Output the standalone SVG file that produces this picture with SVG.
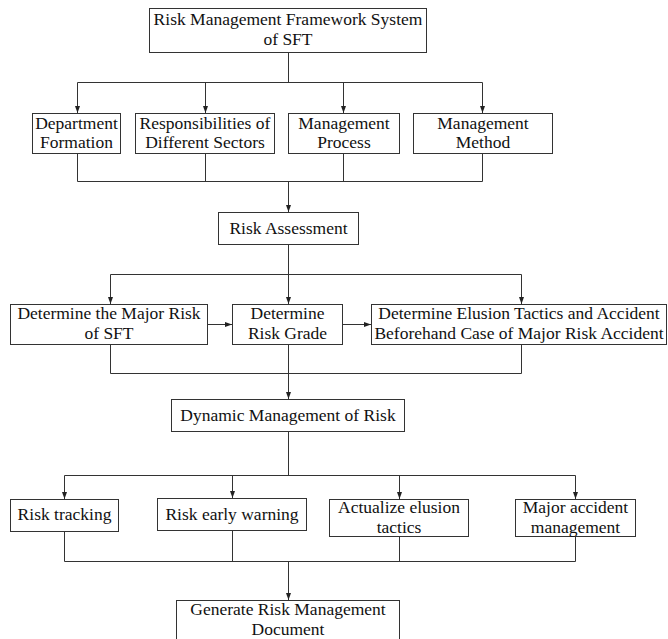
<svg xmlns="http://www.w3.org/2000/svg" width="668" height="639" viewBox="0 0 668 639">
<style>
.box{fill:#fff;stroke:#333;stroke-width:1}
.t{font-family:"Liberation Serif","Times New Roman",serif;font-size:17.5px;fill:#111;text-anchor:middle}
.c{fill:none;stroke:#333;stroke-width:1}
</style>
<defs>
<marker id="ah" markerUnits="userSpaceOnUse" markerWidth="7" markerHeight="5" refX="7" refY="2.5" orient="auto">
<path d="M0,0 L7,2.5 L0,5 z" fill="#222"/>
</marker>
</defs>
<rect width="668" height="639" fill="#fff"/>
<g id="connectors">
<path class="c" d="M288.5,53 V82.5 M77.5,82.5 H482.5"/>
<path class="c" marker-end="url(#ah)" d="M77.5,82.5 V113"/>
<path class="c" marker-end="url(#ah)" d="M205.5,82.5 V113"/>
<path class="c" marker-end="url(#ah)" d="M343.5,82.5 V113"/>
<path class="c" marker-end="url(#ah)" d="M482.5,82.5 V113"/>
<path class="c" d="M77.5,154 V181.5 H482.5 V154 M205.5,154 V181.5 M343.5,154 V181.5"/>
<path class="c" marker-end="url(#ah)" d="M288.5,181.5 V212"/>
<path class="c" marker-end="url(#ah)" d="M288.5,245 V304"/>
<path class="c" d="M110.5,274.5 H521.5"/>
<path class="c" marker-end="url(#ah)" d="M110.5,274.5 V304"/>
<path class="c" marker-end="url(#ah)" d="M521.5,274.5 V304"/>
<path class="c" marker-end="url(#ah)" d="M208,324.5 H232"/>
<path class="c" marker-end="url(#ah)" d="M343,324.5 H371"/>
<path class="c" d="M110.5,345 V373.5 H521.5 V345"/>
<path class="c" marker-end="url(#ah)" d="M288.5,345 V399"/>
<path class="c" d="M288.5,432 V475.5 M64.5,475.5 H575.5"/>
<path class="c" marker-end="url(#ah)" d="M64.5,475.5 V499"/>
<path class="c" marker-end="url(#ah)" d="M232.5,475.5 V498"/>
<path class="c" marker-end="url(#ah)" d="M399.5,475.5 V499"/>
<path class="c" marker-end="url(#ah)" d="M575.5,475.5 V499"/>
<path class="c" d="M64.5,531 V561.5 H575.5 V536 M232.5,530 V561.5 M399.5,536 V561.5"/>
<path class="c" marker-end="url(#ah)" d="M288.5,561.5 V600"/>
</g>
<g id="n-top">
<rect class="box" x="149.5" y="8.5" width="277" height="44"/>
<text class="t" x="288" y="25">Risk Management Framework System</text>
<text class="t" x="288" y="45">of SFT</text>
</g>
<g id="n-dept">
<rect class="box" x="32.5" y="113.5" width="88" height="40"/>
<text class="t" x="76.5" y="129">Department</text>
<text class="t" x="76.5" y="148">Formation</text>
</g>
<g id="n-resp">
<rect class="box" x="135.5" y="113.5" width="139" height="40"/>
<text class="t" x="205" y="129">Responsibilities of</text>
<text class="t" x="205" y="148">Different Sectors</text>
</g>
<g id="n-proc">
<rect class="box" x="288.5" y="113.5" width="111" height="40"/>
<text class="t" x="344" y="129">Management</text>
<text class="t" x="344" y="148">Process</text>
</g>
<g id="n-method">
<rect class="box" x="413.5" y="113.5" width="139" height="40"/>
<text class="t" x="483" y="129">Management</text>
<text class="t" x="483" y="148">Method</text>
</g>
<g id="n-assess">
<rect class="box" x="218.5" y="212.5" width="140" height="32"/>
<text class="t" x="288.5" y="234">Risk Assessment</text>
</g>
<g id="n-major">
<rect class="box" x="10.5" y="304.5" width="197" height="40"/>
<text class="t" x="109" y="319">Determine the Major Risk</text>
<text class="t" x="109" y="339">of SFT</text>
</g>
<g id="n-grade">
<rect class="box" x="232.5" y="304.5" width="110" height="40"/>
<text class="t" x="287.5" y="319">Determine</text>
<text class="t" x="287.5" y="339">Risk Grade</text>
</g>
<g id="n-elusion">
<rect class="box" x="371.5" y="304.5" width="295" height="40"/>
<text class="t" x="519" y="319">Determine Elusion Tactics and Accident</text>
<text class="t" x="519" y="339">Beforehand Case of Major Risk Accident</text>
</g>
<g id="n-dynamic">
<rect class="box" x="171.5" y="399.5" width="233" height="32"/>
<text class="t" x="288" y="421">Dynamic Management of Risk</text>
</g>
<g id="n-track">
<rect class="box" x="10.5" y="499.5" width="108" height="32"/>
<text class="t" x="64.5" y="520">Risk tracking</text>
</g>
<g id="n-warn">
<rect class="box" x="157.5" y="498.5" width="149" height="32"/>
<text class="t" x="232" y="520">Risk early warning</text>
</g>
<g id="n-actual">
<rect class="box" x="329.5" y="499.5" width="139" height="37"/>
<text class="t" x="399" y="513">Actualize elusion</text>
<text class="t" x="399" y="533">tactics</text>
</g>
<g id="n-accident">
<rect class="box" x="515.5" y="499.5" width="120" height="37"/>
<text class="t" x="575.5" y="513">Major accident</text>
<text class="t" x="575.5" y="533">management</text>
</g>
<g id="n-generate">
<rect class="box" x="176.5" y="600.5" width="223" height="45"/>
<text class="t" x="288" y="615">Generate Risk Management</text>
<text class="t" x="288" y="635">Document</text>
</g>
</svg>
